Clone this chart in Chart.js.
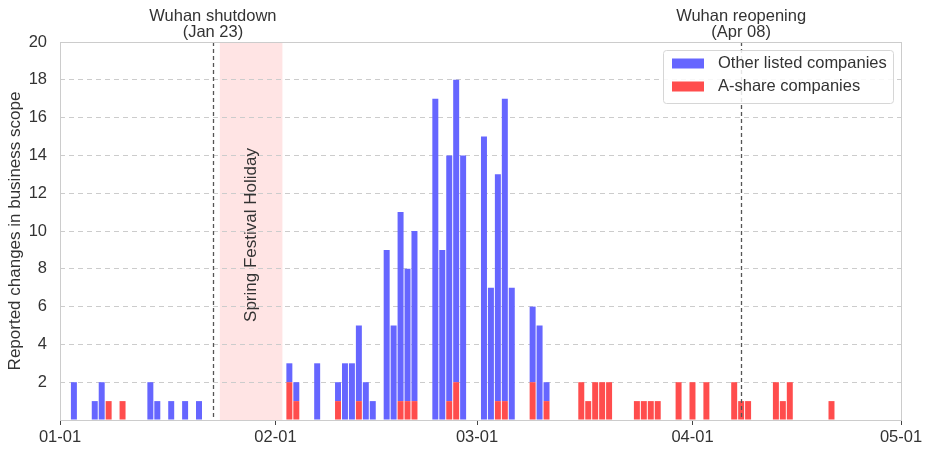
<!DOCTYPE html>
<html><head><meta charset="utf-8">
<script src="https://cdn.jsdelivr.net/npm/chart.js@4"></script>
<style>html,body{margin:0;padding:0;background:#fff}</style>
</head><body>
<canvas id="c" width="926" height="450"></canvas>
<script>
// ---- data ----
const dates = [
 '2020-01-03','2020-01-06','2020-01-07','2020-01-08','2020-01-10','2020-01-14','2020-01-15','2020-01-17','2020-01-19','2020-01-21',
 '2020-02-03','2020-02-04','2020-02-07','2020-02-10','2020-02-11','2020-02-12','2020-02-13','2020-02-14','2020-02-15',
 '2020-02-17','2020-02-18','2020-02-19','2020-02-20','2020-02-21','2020-02-24','2020-02-25','2020-02-26','2020-02-27','2020-02-28',
 '2020-03-02','2020-03-03','2020-03-04','2020-03-05','2020-03-06','2020-03-09','2020-03-10','2020-03-11',
 '2020-03-16','2020-03-17','2020-03-18','2020-03-19','2020-03-20','2020-03-24','2020-03-25','2020-03-26','2020-03-27','2020-03-30',
 '2020-04-01','2020-04-03','2020-04-07','2020-04-08','2020-04-09','2020-04-13','2020-04-14','2020-04-15','2020-04-21'
];
const aShare = [
 0,0,0,1,1,0,0,0,0,0,
 2,1,0,1,0,0,1,0,0,
 0,0,1,1,1,0,0,1,2,0,
 0,0,1,1,0,2,0,1,
 2,1,2,2,2,1,1,1,1,2,
 2,2,2,1,1,2,1,2,1
];
const otherListed = [
 2,1,2,0,0,2,1,1,1,1,
 1,1,3,1,3,3,4,2,1,
 9,5,10,7,9,17,9,13,16,14,
 15,7,12,16,7,4,5,1,
 0,0,0,0,0,0,0,0,0,0,
 0,0,0,0,0,0,0,0,0
];
const tickDates = ['2020-01-01','2020-02-01','2020-03-01','2020-04-01','2020-05-01'];
const tickLabels = ['01-01','02-01','03-01','04-01','05-01'];
const events = [
 {date:'2020-01-23', lines:['Wuhan shutdown','(Jan 23)']},
 {date:'2020-04-08', lines:['Wuhan reopening','(Apr 08)']}
];
const holiday = {start:'2020-01-24', end:'2020-02-02', label:'Spring Festival Holiday'};
const seriesNames = ['A-share companies','Other listed companies'];
const yTitle = 'Reported changes in business scope';

// ---- helpers ----
const origin = Date.UTC(2020,0,1);
function day(s){const [y,m,d]=s.split('-').map(Number);return (Date.UTC(y,m-1,d)-origin)/86400000;}
const tickVals = tickDates.map(day);
const BLUE = '#6666ff', RED = '#ff4d4d', TXT = '#333333';
const FONT = "'Liberation Sans', Arial, sans-serif";
const FS = 16.5;
Chart.defaults.font.family = FONT;
Chart.defaults.color = TXT;

const decor = {
  id:'decor',
  beforeDraw(chart){
    const {ctx, chartArea:a, scales:{x}} = chart;
    ctx.save();
    const x0 = x.getPixelForValue(day(holiday.start)), x1 = x.getPixelForValue(day(holiday.end));
    ctx.fillStyle = '#ffe4e4';
    ctx.fillRect(x0, a.top, x1-x0, a.bottom-a.top);
    ctx.restore();
  },
  afterDatasetsDraw(chart){
    const {ctx, chartArea:a, scales:{x}} = chart;
    ctx.save();
    ctx.strokeStyle = '#555'; ctx.lineWidth = 1.3; ctx.setLineDash([4,3]);
    events.forEach(e=>{
      const px = Math.round(x.getPixelForValue(day(e.date)))+0.5;
      ctx.beginPath(); ctx.moveTo(px,a.top); ctx.lineTo(px,a.bottom); ctx.stroke();
    });
    ctx.setLineDash([]);
    const hx = (x.getPixelForValue(day(holiday.start))+x.getPixelForValue(day(holiday.end)))/2;
    ctx.translate(hx, (a.top+a.bottom)/2 + 4);
    ctx.rotate(-Math.PI/2);
    ctx.fillStyle = TXT; ctx.font = '17px '+FONT; ctx.textAlign='center'; ctx.textBaseline='middle';
    ctx.fillText(holiday.label, 0, 0);
    ctx.restore();
    ctx.save();
    ctx.strokeStyle = '#cccccc'; ctx.lineWidth = 1;
    ctx.strokeRect(Math.round(a.left)+0.5, Math.round(a.top)+0.5, Math.round(a.right-a.left), Math.round(a.bottom-a.top));
    ctx.restore();
  },
  afterDraw(chart){
    const {ctx, scales:{x}} = chart;
    ctx.save();
    ctx.fillStyle = TXT; ctx.font = FS+'px '+FONT; ctx.textAlign='center'; ctx.textBaseline='middle';
    events.forEach(e=>{
      const px = x.getPixelForValue(day(e.date));
      ctx.fillText(e.lines[0], px, 16);
      ctx.fillText(e.lines[1], px, 32);
    });
    const lx = 663, ly = 50, lw = 230, lh = 53;
    ctx.fillStyle = 'rgba(255,255,255,0.85)'; ctx.strokeStyle = '#d6d6d6';
    ctx.beginPath(); ctx.roundRect(lx+0.5, ly+0.5, lw, lh, 3); ctx.fill(); ctx.stroke();
    const items = [[seriesNames[1], BLUE],[seriesNames[0], RED]];
    items.forEach((it,i)=>{
      const cy = ly + 13.5 + i*23;
      ctx.fillStyle = it[1]; ctx.fillRect(672, cy-5, 32, 10);
      ctx.fillStyle = TXT; ctx.textAlign='left';
      ctx.fillText(it[0], 718, cy);
    });
    ctx.restore();
  }
};

new Chart(document.getElementById('c'), {
  type:'bar',
  data:{
    datasets:[
      {label:seriesNames[0], data:dates.map((d,i)=>({x:day(d), y:aShare[i]})), backgroundColor:RED, barPercentage:0.86, categoryPercentage:1},
      {label:seriesNames[1], data:dates.map((d,i)=>({x:day(d), y:otherListed[i]})), backgroundColor:BLUE, barPercentage:0.86, categoryPercentage:1}
    ]
  },
  options:{
    responsive:false, animation:false, devicePixelRatio:1,
    layout:{padding:{top:42, right:25, left:0, bottom:0}},
    plugins:{legend:{display:false}, tooltip:{enabled:false}},
    scales:{
      x:{
        type:'linear', min:0, max:121, offset:false, stacked:true,
        afterBuildTicks(s){ s.ticks = tickVals.map(v=>({value:v})); },
        afterFit(s){ s.height = 30; },
        grid:{display:true, offset:false, drawOnChartArea:false, drawTicks:true, tickLength:5, color:'#444', tickColor:'#444'},
        border:{display:false},
        ticks:{autoSkip:false, maxRotation:0, padding:3, font:{size:FS}, color:TXT,
          callback(v){ const i = tickVals.indexOf(v); return i>=0 ? tickLabels[i] : ''; }}
      },
      y:{
        type:'linear', min:0, max:20, stacked:true,
        afterFit(s){ s.width = 60; },
        grid:{drawTicks:false, color:(c)=> (c.tick && (c.tick.value===0||c.tick.value===20)) ? 'rgba(0,0,0,0)' : '#cccccc', lineWidth:1},
        border:{display:false, dash:[5,4]},
        ticks:{stepSize:2, padding:13, font:{size:FS}, color:TXT, callback(v){ return v===0 ? '' : v; }},
        title:{display:true, text:yTitle, font:{size:17}, color:TXT, padding:{top:5,bottom:0}}
      }
    }
  },
  plugins:[decor]
});
</script>
</body></html>
